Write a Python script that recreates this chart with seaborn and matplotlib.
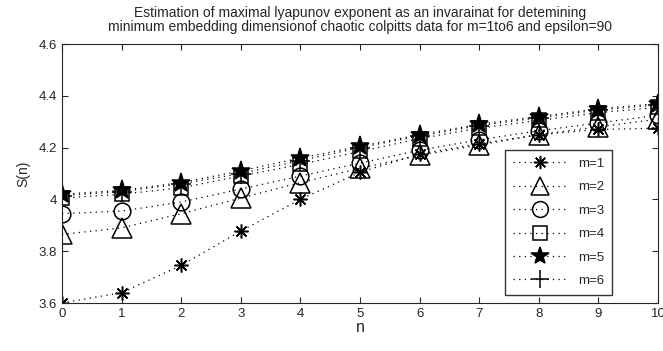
import matplotlib
matplotlib.use("Agg")
import matplotlib.pyplot as plt
import seaborn as sns
import numpy as np
import pandas as pd

sns.set_style("ticks")
plt.rcParams['font.family'] = ['Liberation Sans', 'DejaVu Sans']

n = [0, 1, 2, 3, 4, 5, 6, 7, 8, 9, 10]
m1 = [3.60, 3.64, 3.745, 3.878, 4.00, 4.105, 4.175, 4.215, 4.25, 4.27, 4.275]
m2 = [3.865, 3.89, 3.945, 4.005, 4.065, 4.12, 4.17, 4.21, 4.25, 4.28, 4.31]
m3 = [3.945, 3.955, 3.99, 4.04, 4.09, 4.14, 4.19, 4.23, 4.265, 4.295, 4.325]
m4 = [4.005, 4.02, 4.045, 4.09, 4.135, 4.185, 4.235, 4.275, 4.305, 4.335, 4.355]
m5 = [4.02, 4.035, 4.065, 4.11, 4.16, 4.205, 4.25, 4.29, 4.32, 4.35, 4.37]
m6 = [4.015, 4.03, 4.06, 4.10, 4.15, 4.20, 4.245, 4.285, 4.315, 4.345, 4.365]
labels = ["m=1", "m=2", "m=3", "m=4", "m=5", "m=6"]
series = [m1, m2, m3, m4, m5, m6]

markers = [(8, 2, 0), '^', 'o', 's', '*', '+']
msizes = [10, 14, 12, 10, 14, 14]
fills = ['black', 'none', 'none', 'none', 'black', 'black']

fig = plt.figure(figsize=(6.63, 3.51), dpi=100)
ax = fig.add_axes([62/663, 1-303/351, (658-62)/663, (303-44)/351])

for lab, ys, mk, ms, fc in zip(labels, series, markers, msizes, fills):
    df = pd.DataFrame({"n": n, "S": ys})
    sns.lineplot(data=df, x="n", y="S", ax=ax, color='black', linestyle=(0, (1, 3.5)),
                 linewidth=0.9, marker=mk, markersize=ms, markerfacecolor=fc,
                 markeredgecolor='black', markeredgewidth=1.1, label=lab)

ax.set_xlim(0, 10)
ax.set_ylim(3.6, 4.6)
ax.set_xticks(range(0, 11))
ax.set_yticks([3.6, 3.8, 4.0, 4.2, 4.4, 4.6])
ax.set_yticklabels(["3.6", "3.8", "4", "4.2", "4.4", "4.6"])
ax.tick_params(direction='in', top=True, right=True, labelsize=9.5, length=4, width=0.8)
for s in ax.spines.values():
    s.set_linewidth(0.8)
    s.set_visible(True)
ax.set_xlabel("n", fontsize=11.5, labelpad=0)
ax.set_ylabel("S(n)", fontsize=10, labelpad=6)
ax.set_title("Estimation of maximal lyapunov exponent as an invarainat for detemining\n"
             "minimum embedding dimensionof chaotic colpitts data for m=1to6 and epsilon=90",
             fontsize=10, pad=9.5, linespacing=0.95)

leg = ax.legend(loc='lower right', bbox_to_anchor=((612-62)/596, (303-295)/259),
                fontsize=9.5, frameon=True, fancybox=False, edgecolor='black',
                handlelength=4.0, labelspacing=0.85, borderpad=0.6, handletextpad=0.9,
                markerscale=0.95, borderaxespad=0)
leg.get_frame().set_linewidth(1.0)

fig.savefig("out.png", dpi=100)
